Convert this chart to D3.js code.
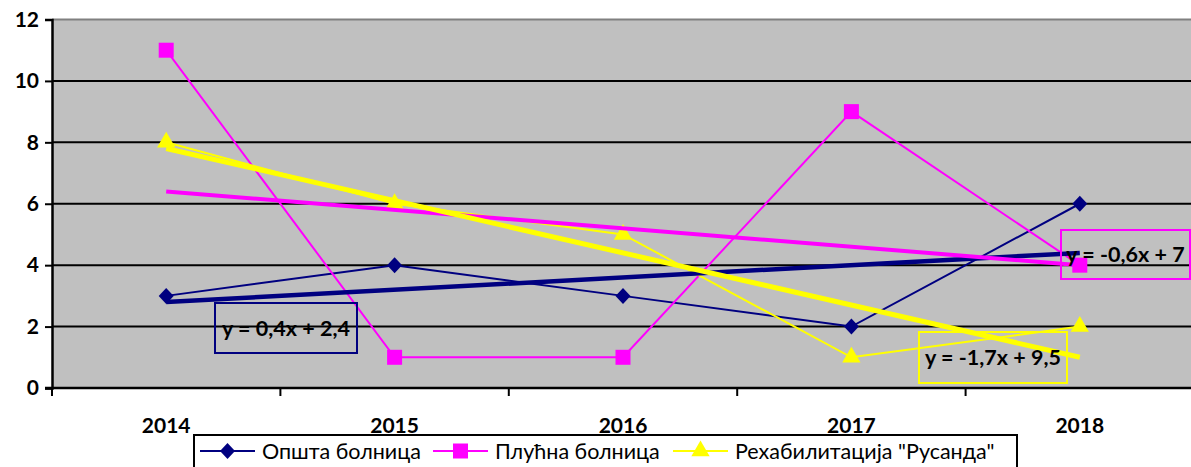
<!DOCTYPE html>
<html>
<head>
<meta charset="utf-8">
<script src="https://cdn.jsdelivr.net/npm/d3@7"></script>
<style>
  body { margin: 0; background: #fff; }
  svg { display: block; font-family: Lato, "Liberation Sans", sans-serif; }
</style>
</head>
<body>
<svg id="chart" width="1191" height="467"></svg>
<script>
const years = ["2014", "2015", "2016", "2017", "2018"];
const opsta = [3, 4, 3, 2, 6];
const plucna = [11, 1, 1, 9, 4];
const rusanda = [8, 6, 5, 1, 2];
const yTicks = [0, 2, 4, 6, 8, 10, 12];

const series = [
  { name: "Општа болница", values: opsta, color: "#000080", marker: "diamond", trendW: 4.5 },
  { name: "Плућна болница", values: plucna, color: "#FF00FF", marker: "square", trendW: 4 },
  { name: "Рехабилитација \"Русанда\"", values: rusanda, color: "#FFFF00", marker: "triangle", trendW: 5 }
];

// where each trend equation box sits (left, top, width, height)
const eqBoxes = [
  { x: 215, y: 303, w: 142, h: 50 },
  { x: 1061, y: 230, w: 129, h: 49 },
  { x: 919, y: 332, w: 148, h: 51 }
];

(function () {
  const svg = d3.select("#chart");
  const plotL = 52, plotT = 19.5, plotR = 1194, plotB = 388;

  const x = d3.scaleBand().domain(years).range([plotL, plotR]);
  const y = d3.scaleLinear().domain([0, 12]).range([plotB, plotT]);
  const cx = (i) => x(years[i]) + x.bandwidth() / 2;

  // plot area
  svg.append("rect")
    .attr("x", plotL).attr("y", plotT)
    .attr("width", plotR - plotL).attr("height", plotB - plotT)
    .attr("fill", "#C0C0C0");
  svg.append("line")
    .attr("x1", plotL).attr("x2", plotR).attr("y1", plotT).attr("y2", plotT)
    .attr("stroke", "#808080").attr("stroke-width", 2);

  // gridlines
  svg.append("g")
    .selectAll("line")
    .data(yTicks.filter((t) => t > 0 && t < 12))
    .join("line")
    .attr("x1", plotL).attr("x2", plotR)
    .attr("y1", (d) => y(d)).attr("y2", (d) => y(d))
    .attr("stroke", "#000").attr("stroke-width", 2);

  // y axis
  const yAxis = svg.append("g")
    .attr("transform", `translate(${plotL},0)`)
    .call(d3.axisLeft(y).tickValues(yTicks).tickSize(7).tickPadding(6));
  yAxis.select(".domain").attr("stroke", "#000").attr("stroke-width", 2.5);
  yAxis.selectAll(".tick line").attr("stroke", "#000").attr("stroke-width", 2);
  yAxis.selectAll("text")
    .attr("font-family", "Lato, sans-serif").attr("font-size", 21)
    .attr("font-weight", "bold").attr("fill", "#000");

  // x axis: ticks between categories
  const xBounds = years.map((d) => x(d)).concat([plotR]);
  svg.append("line")
    .attr("x1", plotL - 7).attr("x2", plotR).attr("y1", plotB).attr("y2", plotB)
    .attr("stroke", "#000").attr("stroke-width", 2.5);
  svg.append("g")
    .selectAll("line")
    .data(xBounds)
    .join("line")
    .attr("x1", (d) => d).attr("x2", (d) => d)
    .attr("y1", plotB).attr("y2", plotB + 8)
    .attr("stroke", "#000").attr("stroke-width", 2);

  // series lines
  const line = d3.line().x((d, i) => cx(i)).y((d) => y(d));
  series.forEach((s) => {
    svg.append("path")
      .datum(s.values)
      .attr("d", line)
      .attr("fill", "none")
      .attr("stroke", s.color)
      .attr("stroke-width", 2);
  });

  // markers
  function markerPath(type) {
    if (type === "diamond") return "M0,-8L7.5,0L0,8L-7.5,0Z";
    if (type === "square") return d3.symbol(d3.symbolSquare, 225)();
    return d3.symbol(d3.symbolTriangle, 145)();
  }
  series.forEach((s) => {
    svg.append("g")
      .selectAll("path")
      .data(s.values)
      .join("path")
      .attr("d", markerPath(s.marker))
      .attr("transform", (d, i) => `translate(${cx(i)},${y(d)})`)
      .attr("fill", s.color);
  });

  // linear trends (least squares over x = 1..n)
  function fit(values) {
    const xs = values.map((d, i) => i + 1);
    const mx = d3.mean(xs), my = d3.mean(values);
    const slope = d3.sum(xs, (xv, i) => (xv - mx) * (values[i] - my)) / d3.sum(xs, (xv) => (xv - mx) ** 2);
    return { slope, intercept: my - slope * mx };
  }
  const fmt = (v) => (Math.round(v * 10) / 10).toString().replace(".", ",");

  series.forEach((s) => {
    const f = fit(s.values);
    s.fit = f;
    svg.append("line")
      .attr("x1", cx(0)).attr("y1", y(f.slope * 1 + f.intercept))
      .attr("x2", cx(s.values.length - 1)).attr("y2", y(f.slope * s.values.length + f.intercept))
      .attr("stroke", s.color)
      .attr("stroke-width", s.trendW);
  });

  // equation labels
  series.forEach((s, i) => {
    const b = eqBoxes[i];
    const sign = s.fit.intercept < 0 ? " - " : " + ";
    const text = `y = ${fmt(s.fit.slope)}x${sign}${fmt(Math.abs(s.fit.intercept))}`;
    svg.append("rect")
      .attr("x", b.x).attr("y", b.y).attr("width", b.w).attr("height", b.h)
      .attr("fill", "none").attr("stroke", s.color).attr("stroke-width", 2);
    svg.append("text")
      .attr("x", b.x + b.w / 2).attr("y", b.y + b.h / 2)
      .attr("dy", "0.35em")
      .attr("text-anchor", "middle")
      .attr("font-size", 21.5).attr("font-weight", "bold").attr("fill", "#000")
      .text(text);
  });

  // x labels
  svg.append("g")
    .selectAll("text")
    .data(years)
    .join("text")
    .attr("x", (d, i) => cx(i))
    .attr("y", 433)
    .attr("text-anchor", "middle")
    .attr("font-size", 21).attr("font-weight", "bold").attr("fill", "#000")
    .text((d) => d);

  // legend
  const legend = svg.append("g");
  legend.append("rect")
    .attr("x", 194).attr("y", 435).attr("width", 823).attr("height", 40)
    .attr("fill", "none").attr("stroke", "#000").attr("stroke-width", 2);
  const legendX = [200, 433, 673];
  series.forEach((s, i) => {
    const g = legend.append("g").attr("transform", `translate(${legendX[i]},451)`);
    g.append("line").attr("x1", 0).attr("x2", 55).attr("stroke", s.color).attr("stroke-width", 2);
    g.append("path")
      .attr("d", markerPath(s.marker))
      .attr("transform", "translate(27.5,0)")
      .attr("fill", s.color);
    g.append("text")
      .attr("x", 62).attr("dy", "0.35em")
      .attr("font-size", 21.5).attr("fill", "#000")
      .text(s.name);
  });
})();
</script>
</body>
</html>
